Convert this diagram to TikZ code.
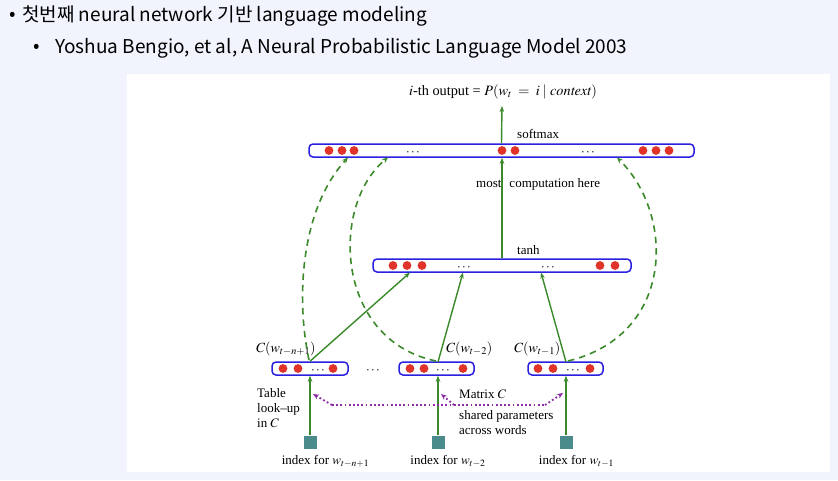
\documentclass[tikz,border=0pt]{standalone}
\usepackage{mathptmx}
\usepackage{fontspec}
\setmainfont{Liberation Serif}
\newfontfamily\krfont{Noto Sans CJK KR}
\usetikzlibrary{arrows.meta,calc}
\definecolor{bgblue}{HTML}{F1F4FD}
\definecolor{barblue}{HTML}{2B20E0}
\definecolor{dotred}{HTML}{E0342A}
\definecolor{arrgreen}{HTML}{3B8A2A}
\definecolor{sqteal}{HTML}{4A8B8C}
\definecolor{purp}{HTML}{8B2DA6}
\tikzset{
  bar/.style={draw=barblue, line width=1.5pt, rounded corners=4pt, fill=white, inner sep=0pt, minimum height=13pt},
  rdot/.style={fill=dotred},
  garrow/.style={draw=arrgreen, line width=1.4pt, -{Stealth[length=6pt,width=4.5pt]}},
  gdash/.style={draw=arrgreen, line width=1.6pt, dash pattern=on 6.5pt off 5pt, -{Stealth[length=6pt,width=5pt]}},
  parrow/.style={draw=purp, line width=1.8pt, dash pattern=on 1.8pt off 2.4pt, -{Stealth[length=6pt,width=5pt]}},
  sq/.style={fill=sqteal, minimum size=13pt, inner sep=0pt},
  lbl/.style={font=\fontsize{13}{15}\selectfont, inner sep=0pt},
  lbll/.style={lbl, anchor=west},
  clbl/.style={font=\fontsize{14}{16}\selectfont, inner sep=0pt, anchor=west},
  dts/.style={font=\fontsize{13}{13}\selectfont, inner sep=0pt},
  hdr/.style={font=\krfont\fontsize{19}{21}\selectfont, anchor=west, inner sep=0pt},
}
\begin{document}
\begin{tikzpicture}[x=1pt,y=-1pt]
\fill[bgblue] (0,0) rectangle (838,480);
\useasboundingbox (0,0) rectangle (838,480);
\fill[white] (127,74) rectangle (830,472);
% header
\node[hdr] (b1) at (9,16) {•};
\node[hdr] (h1) at (22,16) {첫번째 neural network 기반 language modeling};
\node[hdr] (b2) at (33,48) {•};
\node[hdr] (h2) at (55,48) {Yoshua Bengio, et al, A Neural Probabilistic Language Model 2003};
% bars
\node[bar, minimum width=385pt] (sm) at (501.5,150.5) {};
\node[bar, minimum width=258pt] (th) at (502,265.5) {};
\node[bar, minimum width=76pt] (C1) at (310,368.5) {};
\node[bar, minimum width=75pt] (C2) at (436.5,368.5) {};
\node[bar, minimum width=75pt] (C3) at (565.5,368.5) {};
% dots
\foreach \x in {329,342,354,502,515,643,656,669} \fill[rdot] (\x,150.5) circle (4.4pt);
\foreach \x in {393,407,422,600,615} \fill[rdot] (\x,265.5) circle (4.4pt);
\foreach \x in {283,298,333,410,424,463,538,553,590} \fill[rdot] (\x,368.5) circle (4.4pt);
\node[dts] (d1) at (413,152.5) {$\cdots$};
\node[dts] (d2) at (588,152.5) {$\cdots$};
\node[dts] (d3) at (464,267.5) {$\cdots$};
\node[dts] (d4) at (548,267.5) {$\cdots$};
\node[dts] (d5) at (318,370.5) {$\cdots$};
\node[dts] (d6) at (443,370.5) {$\cdots$};
\node[dts] (d7) at (573,370.5) {$\cdots$};
\node[dts] (d8) at (373,371) {$\cdots$};
% squares
\node[sq] (s1) at (310,442) {};
\node[sq] (s2) at (438,442) {};
\node[sq] (s3) at (566,442) {};
% labels
\node[font=\fontsize{14.3}{16}\selectfont, inner sep=0pt] (title) at (503,92) {$i$-th output = $P(w_t\;=\;i\mid \mathit{context})$};
\node[lbll] (lsm) at (517,134) {softmax};
\node[lbll] (lmc) at (476,184) {most\hspace{8pt}computation here};
\node[lbll] (lth) at (517,250) {tanh};
\node[clbl] (lc1) at (256,349) {$C(w_{t-n+1})$};
\node[clbl] (lc2) at (446,349) {$C(w_{t-2})$};
\node[clbl] (lc3) at (514,349) {$C(w_{t-1})$};
\node[lbl, anchor=west, align=left] (ltab) at (257,408) {Table\\look--up\\in $C$};
\node[lbll] (lmat) at (459,394) {Matrix $C$};
\node[lbl, anchor=west, align=left] (lsh) at (459,423) {shared parameters\\across words};
\node[lbl] (i1) at (325.5,461) {index for $w_{t-n+1}$};
\node[lbl] (i2) at (448,461) {index for $w_{t-2}$};
\node[lbl] (i3) at (576.5,461) {index for $w_{t-1}$};
% coordinates
\coordinate (t1) at (410,272.5);
\coordinate (t2) at (463,272.5);
\coordinate (t3) at (541,272.5);
\coordinate (c2top) at (438,362);
\coordinate (c3top) at (566,362);
\coordinate (ttop) at (502,106);
\coordinate (sm1) at (348,157.5);
\coordinate (sm2) at (388,157.5);
\coordinate (sm3) at (617,157.5);
\coordinate (p1) at (313,394);
\coordinate (p2) at (441,394);
\coordinate (p3) at (563,393);
\coordinate (pa) at (332,405);
\coordinate (pb) at (545,405);
\coordinate (pm) at (454,405);
% solid arrows
\draw[garrow] (s1.north) -- (C1.south);
\draw[garrow] (s2.north) -- (s2.north |- C2.south);
\draw[garrow] (s3.north) -- (s3.north |- C3.south);
\draw[garrow] (C1.north) -- (t1);
\draw[garrow] (c2top) -- (t2);
\draw[garrow] (c3top) -- (t3);
\draw[garrow] (th.north) -- (th.north |- sm.south);
\draw[garrow] (sm.north) -- (ttop);
% dashed curves
\draw[gdash] (309,360) .. controls (296,300) and (300,210) .. (sm1);
\draw[gdash] (436,361) .. controls (335,340) and (330,205) .. (sm2);
\draw[gdash] (568,361) .. controls (675,335) and (675,215) .. (sm3);
% purple dotted
\draw[parrow] (pa) -- (p1);
\draw[parrow] (pb) -- (p3);
\draw[parrow] (pm) -- (p2);
\draw[draw=purp, line width=1.8pt, dash pattern=on 1.8pt off 2.4pt] (pa) -- (pb);
\end{tikzpicture}
\end{document}
